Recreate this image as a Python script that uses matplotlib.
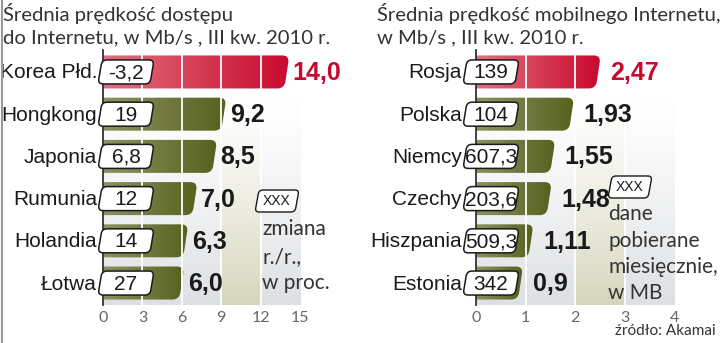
import numpy as np
import matplotlib
matplotlib.use('Agg')
import matplotlib.pyplot as plt
from matplotlib import transforms
from matplotlib.colors import LinearSegmentedColormap, to_rgb
from matplotlib.lines import Line2D
from matplotlib.patches import BoxStyle, PathPatch

speed_countries = ['Korea Płd.', 'Hongkong', 'Japonia', 'Rumunia', 'Holandia', 'Łotwa']
speed_values = [14.0, 9.2, 8.5, 7.0, 6.3, 6.0]
speed_labels = ['14,0', '9,2', '8,5', '7,0', '6,3', '6,0']
speed_change = ['-3,2', '19', '6,8', '12', '14', '27']
speed_ticks = [0, 3, 6, 9, 12, 15]

mobile_countries = ['Rosja', 'Polska', 'Niemcy', 'Czechy', 'Hiszpania', 'Estonia']
mobile_values = [2.47, 1.93, 1.55, 1.48, 1.11, 0.9]
mobile_labels = ['2,47', '1,93', '1,55', '1,48', '1,11', '0,9']
mobile_download = ['139', '104', '607,3', '203,6', '509,3', '342']
mobile_ticks = [0, 1, 2, 3, 4]

W, H, DPI = 720, 343, 100
LIGHT = ['Lato', 'Open Sans', 'DejaVu Sans']
SANS = ['Liberation Sans', 'DejaVu Sans']
NARROW = ['Liberation Sans Narrow', 'Liberation Sans', 'DejaVu Sans']

red_cmap = LinearSegmentedColormap.from_list('red', ['#e2707c', '#c8082f'])
green_cmap = LinearSegmentedColormap.from_list('green', ['#8d9262', '#56611d'])

fig = plt.figure(figsize=(W / DPI, H / DPI), dpi=DPI)
fig.patch.set_facecolor('white')


def slanted_box(x0, y0, w, h, r, slant):
    # rounded rectangle (pixels) sheared so its edges lean like "/"
    path = BoxStyle.Round(pad=0, rounding_size=r)(x0, y0, w, h, 1)
    shear = (transforms.Affine2D().translate(0, -(y0 + h / 2))
             .skew(np.arctan(slant / h), 0).translate(0, y0 + h / 2))
    return shear.transform_path(path)


def at(ax, x, y):
    return transforms.ScaledTranslation(x, y, ax.transData)


def shifted(ax, dx, dy):
    return ax.transData + transforms.ScaledTranslation(dx / DPI, dy / DPI, fig.dpi_scale_trans)


def panel(rect, countries, values, labels, boxes, ticks, beige,
          label_dx, box_dx, value_dx):
    ax = fig.add_axes(rect)
    xmax = ticks[-1]
    ax.set_xlim(0, xmax)
    ax.set_ylim(5.52, -0.52)
    px = (ax.transData.transform((1, 0))[0] - ax.transData.transform((0, 0))[0])

    # vertical gradient bands behind the bars
    for i, (a, b) in enumerate(zip(ticks[:-1], ticks[1:])):
        col = to_rgb('#d6d6bd') if i == beige else to_rgb('#dde0e3')
        img = np.zeros((100, 1, 4))
        img[:, 0, :3] = col
        img[:, 0, 3] = np.linspace(0.0, 1, 100) ** 1.3
        ax.imshow(img, extent=(a, b, 5.52, 0.45), origin='upper',
                  aspect='auto', zorder=0.5, interpolation='bilinear')

    for i, v in enumerate(values):
        cmap = red_cmap if i == 0 else green_cmap
        w = v * px + 12
        path = slanted_box(-12, -16.5, w, 33, 7, 5)
        patch = PathPatch(path, facecolor='none', edgecolor='none',
                          transform=at(ax, 0, i))
        ax.add_patch(patch)
        grad = np.linspace(0, 1, 256).reshape(1, -1)
        im = ax.imshow(grad, cmap=cmap, extent=(0, v * 1.03, i + 0.5, i - 0.5),
                       aspect='auto', zorder=2, interpolation='bilinear')
        im.set_clip_path(patch)

        ax.text(v, i, labels[i], transform=shifted(ax, value_dx, -1),
                ha='left', va='center', fontsize=18, fontweight='bold',
                family=NARROW, color='#c8082f' if i == 0 else '#1a1a1a', zorder=6)

        box = PathPatch(slanted_box(box_dx, -12, 52, 24, 5, 4), facecolor='white',
                        edgecolor='#1a1a1a', linewidth=1.1, transform=at(ax, 0, i),
                        zorder=5, clip_on=False)
        ax.add_patch(box)
        ax.text(0, i, boxes[i], transform=shifted(ax, box_dx + 26, -1),
                ha='center', va='center', fontsize=15, family=SANS,
                color='#1a1a1a', zorder=6)
        ax.text(0, i, countries[i], transform=shifted(ax, label_dx, -1),
                ha='right', va='center', fontsize=15, family=SANS,
                color='#1a1a1a', zorder=6)

    for t in ticks[1:-1]:
        ax.axvline(t, color='white', linewidth=1.3, zorder=3)

    ax.set_xlim(0, xmax)
    ax.set_ylim(5.52, -0.52)
    ax.set_xticks(ticks)
    ax.set_xticklabels([str(t) for t in ticks], family=LIGHT, fontsize=11.5,
                       color='#666666')
    ax.tick_params(axis='x', length=0, pad=4)
    ax.set_yticks([])
    for side in ['top', 'right', 'bottom']:
        ax.spines[side].set_visible(False)
    ax.spines['left'].set_color('#333333')
    ax.spines['left'].set_linewidth(1.3)
    ax.spines['left'].set_zorder(4)
    ax.set_facecolor('none')
    return ax


panel([103 / W, 38 / H, 197 / W, 255 / H], speed_countries, speed_values,
      speed_labels, speed_change, speed_ticks, 3,
      label_dx=-6, box_dx=-3, value_dx=6)
panel([476 / W, 38 / H, 198 / W, 255 / H], mobile_countries, mobile_values,
      mobile_labels, mobile_download, mobile_ticks, 2,
      label_dx=-14, box_dx=-11, value_dx=12)


def ftext(x, y, s, **kw):
    fig.text(x / W, 1 - y / H, s, **kw)


title_kw = dict(fontsize=14.6, family=LIGHT, color='#333333',
                va='center', ha='left')
ftext(3, 14, 'Średnia prędkość dostępu', **title_kw)
ftext(3, 38, 'do Internetu, w Mb/s , III kw. 2010 r.', **title_kw)
ftext(377, 14, 'Średnia prędkość mobilnego Internetu,', **title_kw)
ftext(377, 38, 'w Mb/s , III kw. 2010 r.', **title_kw)

# legend boxes
for (x0, y0, tx, lines, ys) in [(257, 201, 262, ['zmiana', 'r./r.,', 'w proc.'], [229, 257, 283]),
                                (610, 187, 608, ['dane', 'pobierane', 'miesięcznie,', 'w MB'],
                                 [214, 241, 267, 293])]:
    p = PathPatch(slanted_box(x0, H - y0 - 11, 40, 22, 4, 4), facecolor='white',
                  edgecolor='#1a1a1a', linewidth=1.0,
                  transform=transforms.IdentityTransform())
    fig.add_artist(p)
    ftext(x0 + 20, y0, 'XXX', fontsize=10, family=NARROW, ha='center',
          va='center', color='#1a1a1a')
    for s, yy in zip(lines, ys):
        ftext(tx, yy, s, fontsize=15, family=LIGHT, color='#333333',
              ha='left', va='center')

ftext(716, 331, 'źródło: Akamai', fontsize=11, family=LIGHT,
      color='#333333', ha='right', va='center')

fig.add_artist(Line2D([1.5 / W, 1.5 / W], [0, 1], color='#999999', linewidth=1.5,
                      transform=fig.transFigure))

fig.savefig('out.png', dpi=DPI, facecolor='white')
